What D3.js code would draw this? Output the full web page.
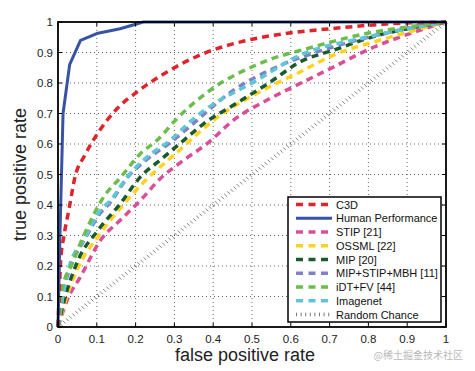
<!DOCTYPE html>
<meta charset="utf-8">
<style>
    body { margin: 0; background: #fff; }
    text { font-family: "Liberation Sans", Arial, sans-serif; }
    .tick-label { font-size: 11.5px; fill: #222; }
    .axis-title { font-size: 18px; fill: #222; }
    .legend-text { font-size: 11px; fill: #111; }
</style>
<body>
<script src="https://d3js.org/d3.v7.min.js"></script>
<script>
    // ---- data ----
    var ticks = [0, 0.1, 0.2, 0.3, 0.4, 0.5, 0.6, 0.7, 0.8, 0.9, 1];

    var humanX = [0, 0.005, 0.009, 0.013, 0.03, 0.058, 0.1, 0.16, 0.22, 1];
    var humanY = [0, 0.3, 0.5, 0.7, 0.86, 0.94, 0.962, 0.978, 1, 1];

    var c3dX = [0, 0.003, 0.007, 0.015, 0.028, 0.045, 0.067, 0.105, 0.157, 0.204, 0.282, 0.376, 0.471, 0.591, 0.711, 0.84, 1];
    var c3dY = [0, 0.1, 0.22, 0.296, 0.384, 0.498, 0.558, 0.64, 0.722, 0.771, 0.837, 0.897, 0.935, 0.963, 0.979, 0.993, 1];

    var stipX = [0, 0.024, 0.058, 0.11, 0.161, 0.213, 0.264, 0.325, 0.385, 0.453, 0.539, 0.625, 0.711, 0.797, 0.909, 1];
    var stipY = [0, 0.089, 0.165, 0.285, 0.351, 0.416, 0.487, 0.548, 0.602, 0.679, 0.744, 0.799, 0.853, 0.908, 0.963, 1];

    var ossmlX = [0, 0.02, 0.05, 0.105, 0.161, 0.221, 0.3, 0.419, 0.505, 0.625, 0.711, 0.831, 1];
    var ossmlY = [0, 0.09, 0.19, 0.3, 0.39, 0.475, 0.565, 0.695, 0.761, 0.837, 0.892, 0.941, 1];

    var mipX = [0, 0.02, 0.05, 0.105, 0.161, 0.213, 0.264, 0.325, 0.376, 0.462, 0.548, 0.625, 0.711, 0.797, 1];
    var mipY = [0, 0.105, 0.214, 0.32, 0.405, 0.493, 0.548, 0.613, 0.667, 0.735, 0.804, 0.87, 0.908, 0.946, 1];

    var mipStipX = [0, 0.015, 0.04, 0.07, 0.11, 0.136, 0.179, 0.23, 0.29, 0.342, 0.453, 0.565, 0.711, 0.85, 1];
    var mipStipY = [0, 0.12, 0.22, 0.29, 0.375, 0.41, 0.49, 0.55, 0.605, 0.66, 0.777, 0.853, 0.919, 0.965, 1];

    var idtX = [0, 0.01, 0.037, 0.07, 0.118, 0.161, 0.213, 0.256, 0.307, 0.393, 0.522, 0.66, 0.797, 0.909, 1];
    var idtY = [0, 0.12, 0.21, 0.31, 0.427, 0.49, 0.569, 0.613, 0.684, 0.777, 0.865, 0.919, 0.963, 0.985, 1];

    var imagenetX = [0, 0.024, 0.071, 0.11, 0.136, 0.179, 0.23, 0.29, 0.342, 0.367, 0.514, 0.625, 0.78, 1];
    var imagenetY = [0, 0.176, 0.296, 0.384, 0.416, 0.493, 0.558, 0.613, 0.675, 0.701, 0.81, 0.892, 0.946, 1];

    var randomX = [0, 1];
    var randomY = [0, 1];

    var legendNames = ["C3D", "Human Performance", "STIP [21]", "OSSML [22]", "MIP [20]",
        "MIP+STIP+MBH [11]", "iDT+FV [44]", "Imagenet", "Random Chance"];

    // ---- series table (order = legend order) ----
    var series = [
        {name: legendNames[0], xs: c3dX, ys: c3dY, color: "#e0242c", dash: "7,5", w: 3.5, z: 7},
        {name: legendNames[1], xs: humanX, ys: humanY, color: "#3953a4", dash: null, w: 3, z: 8, straight: true},
        {name: legendNames[2], xs: stipX, ys: stipY, color: "#dc4d98", dash: "7,5", w: 3.5, z: 1},
        {name: legendNames[3], xs: ossmlX, ys: ossmlY, color: "#ffd21f", dash: "7,5", w: 3.5, z: 2},
        {name: legendNames[4], xs: mipX, ys: mipY, color: "#1b5a2c", dash: "7,5", w: 3.5, z: 3},
        {name: legendNames[5], xs: mipStipX, ys: mipStipY, color: "#7f83c4", dash: "7,5", w: 3.5, z: 4},
        {name: legendNames[6], xs: idtX, ys: idtY, color: "#6cbd4c", dash: "7,5", w: 3.5, z: 6},
        {name: legendNames[7], xs: imagenetX, ys: imagenetY, color: "#5ec6d6", dash: "7,5", w: 3.5, z: 5},
        {name: legendNames[8], xs: randomX, ys: randomY, color: "#666", dash: null, w: 0.8, z: 0, random: true}
    ];

    var width = 475, height = 371;
    var margin = {left: 58, right: 29, top: 22, bottom: 44};

    var svg = d3.select("body").append("svg")
        .attr("width", width)
        .attr("height", height);

    var x = d3.scaleLinear().domain([0, 1]).range([margin.left, width - margin.right]);
    var y = d3.scaleLinear().domain([0, 1]).range([height - margin.bottom, margin.top]);
    var fmt = d3.format("~g");

    // grid
    var grid = svg.append("g");
    grid.selectAll(".gx").data(ticks.slice(1, -1)).enter().append("line")
        .attr("x1", function(d) { return x(d); }).attr("x2", function(d) { return x(d); })
        .attr("y1", y(0)).attr("y2", y(1))
        .attr("stroke", "#666").attr("stroke-width", 1).attr("stroke-dasharray", "1,3");
    grid.selectAll(".gy").data(ticks.slice(1, -1)).enter().append("line")
        .attr("y1", function(d) { return y(d); }).attr("y2", function(d) { return y(d); })
        .attr("x1", x(0)).attr("x2", x(1))
        .attr("stroke", "#666").attr("stroke-width", 1).attr("stroke-dasharray", "1,3");

    // random chance: matlab-style dotted diagonal, drawn as small hatch marks
    var rnd = series[8];
    var hatch = d3.range(rnd.xs[0], rnd.xs[1] + 0.0001, 0.008);
    svg.append("g").selectAll("line").data(hatch).enter().append("line")
        .attr("x1", function(t) { return x(t) - 1.4; })
        .attr("y1", function(t) { return y(t) - 1.4; })
        .attr("x2", function(t) { return x(t) + 1.4; })
        .attr("y2", function(t) { return y(t) + 1.4; })
        .attr("stroke", rnd.color).attr("stroke-width", rnd.w);

    // curves
    var smooth = d3.line()
        .x(function(d) { return x(d[0]); })
        .y(function(d) { return y(d[1]); })
        .curve(d3.curveMonotoneX);
    var straight = d3.line()
        .x(function(d) { return x(d[0]); })
        .y(function(d) { return y(d[1]); });

    svg.append("clipPath").attr("id", "plot")
        .append("rect").attr("x", x(0) - 2).attr("y", y(1) - 2)
        .attr("width", x(1) - x(0) + 4).attr("height", y(0) - y(1) + 4);

    var drawOrder = series.filter(function(s) { return !s.random; })
        .sort(function(a, b) { return a.z - b.z; });
    svg.append("g").attr("clip-path", "url(#plot)")
        .selectAll("path").data(drawOrder).enter().append("path")
        .attr("d", function(s) { return (s.straight ? straight : smooth)(d3.zip(s.xs, s.ys)); })
        .attr("fill", "none")
        .attr("stroke", function(s) { return s.color; })
        .attr("stroke-width", function(s) { return s.w; })
        .attr("stroke-linejoin", "round")
        .attr("stroke-dasharray", function(s) { return s.dash; });

    // frame and ticks
    svg.append("rect")
        .attr("x", x(0)).attr("y", y(1))
        .attr("width", x(1) - x(0)).attr("height", y(0) - y(1))
        .attr("fill", "none").attr("stroke", "#000").attr("stroke-width", 1.8);

    var tk = svg.append("g").attr("stroke", "#000").attr("stroke-width", 1);
    ticks.forEach(function(t) {
        tk.append("line").attr("x1", x(t)).attr("x2", x(t)).attr("y1", y(0)).attr("y2", y(0) - 4);
        tk.append("line").attr("x1", x(t)).attr("x2", x(t)).attr("y1", y(1)).attr("y2", y(1) + 4);
        tk.append("line").attr("y1", y(t)).attr("y2", y(t)).attr("x1", x(0)).attr("x2", x(0) + 4);
        tk.append("line").attr("y1", y(t)).attr("y2", y(t)).attr("x1", x(1)).attr("x2", x(1) - 4);
    });

    svg.append("g").selectAll("text").data(ticks).enter().append("text")
        .attr("class", "tick-label")
        .attr("x", function(d) { return x(d); })
        .attr("y", y(0) + 16)
        .attr("text-anchor", "middle")
        .text(fmt);

    svg.append("g").selectAll("text").data(ticks).enter().append("text")
        .attr("class", "tick-label")
        .attr("x", x(0) - 5)
        .attr("y", function(d) { return y(d) + 4; })
        .attr("text-anchor", "end")
        .text(fmt);

    svg.append("text").attr("class", "axis-title")
        .attr("x", (x(0) + x(1)) / 2 - 7).attr("y", 361)
        .attr("text-anchor", "middle")
        .text("false positive rate");

    svg.append("text").attr("class", "axis-title")
        .attr("transform", "translate(26," + ((y(0) + y(1)) / 2) + ") rotate(-90)")
        .attr("text-anchor", "middle")
        .text("true positive rate");

    // legend
    var lg = svg.append("g").attr("transform", "translate(288,197)");
    lg.append("rect").attr("width", 153).attr("height", 125)
        .attr("fill", "#fff").attr("stroke", "#000").attr("stroke-width", 1.5);

    var item = lg.selectAll(".item").data(series).enter().append("g")
        .attr("transform", function(d, i) { return "translate(0," + (7.5 + i * 13.75) + ")"; });

    item.filter(function(s) { return !s.random; }).append("line")
        .attr("x1", 8).attr("x2", 44).attr("y1", 0).attr("y2", 0)
        .attr("stroke", function(s) { return s.color; })
        .attr("stroke-width", function(s) { return s.dash ? 3.5 : 3; })
        .attr("stroke-dasharray", function(s) { return s.dash ? "7,5.5" : null; });

    item.filter(function(s) { return s.random; }).selectAll("line")
        .data(d3.range(0, 8)).enter().append("line")
        .attr("x1", function(k) { return 8.5 + k * 4.6; })
        .attr("x2", function(k) { return 8.5 + k * 4.6; })
        .attr("y1", -1.8).attr("y2", 1.8)
        .attr("stroke", "#555").attr("stroke-width", 0.8);

    item.append("text").attr("class", "legend-text")
        .attr("x", 48).attr("y", 4)
        .text(function(s) { return s.name; });

    // watermark
    svg.append("text")
        .attr("x", 463).attr("y", 359)
        .attr("text-anchor", "end")
        .style("font-family", "'Noto Sans CJK SC', sans-serif")
        .style("font-size", "10px")
        .style("fill", "#b8b8b8")
        .text("@稀土掘金技术社区");
</script>
</body>
